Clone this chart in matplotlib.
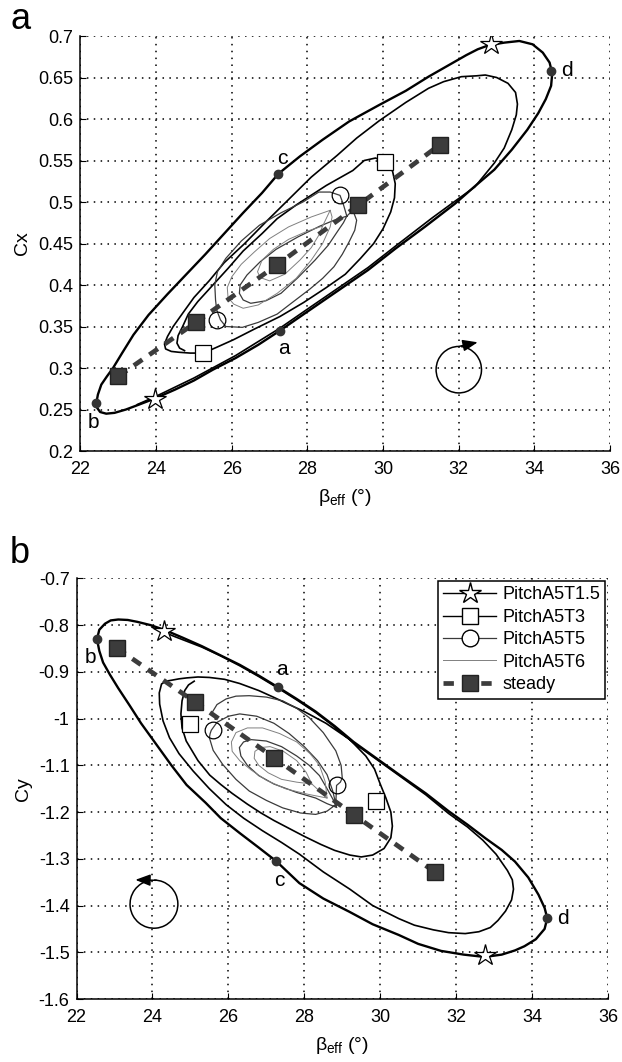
import matplotlib
matplotlib.use('Agg')
import matplotlib.pyplot as plt
from matplotlib.patches import Arc
from matplotlib.lines import Line2D
from matplotlib.ticker import FuncFormatter, MultipleLocator

plt.rcParams['font.family'] = ['Liberation Sans', 'DejaVu Sans']
plt.rcParams['mathtext.fontset'] = 'custom'
plt.rcParams['mathtext.rm'] = 'Liberation Sans'

# ---------------- panel a : Cx vs beta_eff ----------------
# PitchA5T1.5 (outer loop)
a_t15_x = [22.42, 22.46, 22.55, 22.7, 22.86, 23.1, 23.4, 23.8, 24.3, 24.8, 25.3, 25.8, 26.3,
           26.8, 27.23, 27.8, 28.4, 29.1, 29.9, 30.6, 31.2, 31.7, 32.2, 32.5, 32.8, 33.2,
           33.6, 33.95, 34.22, 34.4, 34.47, 34.44, 34.3, 34.1, 33.81, 33.4, 32.94, 32.4, 31.9,
           31.1, 30.33, 29.6, 28.8, 28.0, 27.27, 26.7, 26.1, 25.5, 25.0, 24.5, 23.95, 23.55,
           23.2, 22.9, 22.68, 22.52, 22.44, 22.42]
a_t15_y = [0.258, 0.268, 0.280, 0.290, 0.300, 0.318, 0.340, 0.364, 0.389, 0.413, 0.437,
           0.462, 0.487, 0.511, 0.534, 0.555, 0.575, 0.597, 0.617, 0.634, 0.651, 0.664,
           0.677, 0.684, 0.689, 0.692, 0.694, 0.690, 0.680, 0.668, 0.655, 0.640, 0.624,
           0.607, 0.587, 0.563, 0.539, 0.518, 0.498, 0.470, 0.444, 0.418, 0.393, 0.368,
           0.345, 0.328, 0.312, 0.298, 0.285, 0.274, 0.263, 0.256, 0.250, 0.246, 0.245,
           0.247, 0.252, 0.258]
a_t15_mx = [32.85, 23.96]
a_t15_my = [0.690, 0.263]

# PitchA5T3 (transient loop, then its own cycle)
a_t3_x = [23.5, 24.0, 25.0, 26.1, 27.27, 28.0, 28.8, 29.6, 30.33, 31.3, 31.9, 32.42, 32.94,
          33.2, 33.4, 33.52, 33.55, 33.5, 33.3, 33.0, 32.7, 32.46, 32.07, 31.6, 31.2, 30.6,
          29.9, 29.3, 28.78, 28.1, 27.5, 26.9, 26.34, 25.8, 25.4, 25.0, 24.7, 24.45, 24.3,
          24.22, 24.25, 24.4, 24.6, 24.9, 25.25, 25.6, 26.04, 26.6, 27.27, 27.9, 28.5, 29.0,
          29.4, 29.75, 30.0, 30.2, 30.3, 30.32, 30.25, 30.05, 29.8, 29.5, 29.2, 28.5, 27.72,
          27.2, 26.8, 26.3, 25.9, 25.5, 25.1, 24.85, 24.7, 24.58, 24.55, 24.62, 24.75]
a_t3_y = [0.256, 0.266, 0.288, 0.315, 0.348, 0.371, 0.396, 0.421, 0.447, 0.481, 0.501,
          0.518, 0.547, 0.565, 0.587, 0.605, 0.618, 0.632, 0.643, 0.650, 0.653, 0.652,
          0.651, 0.645, 0.637, 0.620, 0.598, 0.577, 0.556, 0.530, 0.503, 0.476, 0.450,
          0.427, 0.405, 0.385, 0.366, 0.350, 0.338, 0.329, 0.323, 0.320, 0.319, 0.318,
          0.318, 0.325, 0.334, 0.347, 0.362, 0.379, 0.397, 0.413, 0.432, 0.450, 0.468,
          0.488, 0.505, 0.522, 0.537, 0.548, 0.553, 0.550, 0.538, 0.520, 0.497, 0.480,
          0.462, 0.441, 0.420, 0.400, 0.380, 0.365, 0.350, 0.339, 0.330, 0.324, 0.321]
a_t3_mx = [25.25, 30.05]
a_t3_my = [0.318, 0.548]

# PitchA5T5
a_t5_x = [29.04, 28.95, 28.86, 28.6, 28.3, 27.88, 27.3, 26.73, 26.25, 25.84, 25.62, 25.55,
          25.57, 25.6, 25.7, 25.84, 26.28, 26.7, 27.2, 27.6, 28.06, 28.4, 28.7, 28.92, 29.1,
          29.25, 29.3, 29.2, 29.04, 28.7, 28.33, 27.75, 27.17, 26.75, 26.4, 26.22, 26.2,
          26.3, 26.5, 26.9, 27.3, 27.75, 28.2, 28.55, 28.8, 28.95, 29.04]
a_t5_y = [0.483, 0.497, 0.508, 0.512, 0.512, 0.500, 0.487, 0.472, 0.453, 0.432, 0.416,
          0.400, 0.382, 0.370, 0.358, 0.350, 0.349, 0.355, 0.365, 0.379, 0.395, 0.408,
          0.422, 0.437, 0.452, 0.466, 0.478, 0.490, 0.483, 0.478, 0.471, 0.458, 0.443,
          0.428, 0.412, 0.400, 0.390, 0.382, 0.378, 0.381, 0.390, 0.409, 0.430, 0.448,
          0.465, 0.475, 0.483]
a_t5_mx = [28.86, 25.6]
a_t5_my = [0.508, 0.358]

# PitchA5T6
a_t6_x = [28.6, 28.1, 27.5, 27.0, 26.6, 26.25, 26.0, 25.88, 25.9, 26.05, 26.3, 26.7, 27.2,
          27.7, 28.1, 28.4, 28.6, 28.65, 28.6, 28.4, 28.0, 27.5, 27.1, 26.8, 26.68, 26.75,
          27.0, 27.4, 27.8, 28.1, 28.3, 28.4]
a_t6_y = [0.490, 0.482, 0.470, 0.456, 0.440, 0.425, 0.410, 0.397, 0.385, 0.377, 0.372,
          0.376, 0.390, 0.408, 0.430, 0.450, 0.470, 0.482, 0.490, 0.471, 0.465, 0.455,
          0.443, 0.430, 0.416, 0.409, 0.405, 0.413, 0.430, 0.445, 0.460, 0.471]

# steady
a_st_x = [23.0, 25.05, 27.19, 29.34, 31.5]
a_st_y = [0.290, 0.355, 0.424, 0.496, 0.569]

# marked points a, b, c, d
a_pt_x = [27.27, 22.42, 27.23, 34.45]
a_pt_y = [0.345, 0.258, 0.534, 0.658]
a_pt_lab = ['a', 'b', 'c', 'd']

# ---------------- panel b : Cy vs beta_eff ----------------
b_t15_x = [22.54, 22.6, 22.75, 22.9, 23.1, 23.35, 23.6, 23.95, 24.31, 24.8, 25.3, 25.8,
           26.3, 26.8, 27.31, 27.8, 28.3, 28.8, 29.3, 29.9, 30.5, 31.2, 31.8, 32.3, 32.77,
           33.2, 33.55, 33.9, 34.17, 34.33, 34.4, 34.33, 34.1, 33.8, 33.55, 33.2, 32.75,
           32.2, 31.6, 31.0, 30.49, 29.8, 29.18, 28.5, 27.87, 27.26, 26.8, 26.3, 25.8, 25.4,
           24.9, 24.5, 24.1, 23.7, 23.4, 23.1, 22.88, 22.7, 22.6, 22.54]
b_t15_y = [-0.830, -0.810, -0.797, -0.790, -0.788, -0.789, -0.793, -0.800, -0.810, -0.827,
           -0.845, -0.865, -0.885, -0.908, -0.933, -0.958, -0.985, -1.016, -1.050, -1.085,
           -1.120, -1.160, -1.198, -1.227, -1.256, -1.281, -1.306, -1.340, -1.377, -1.405,
           -1.427, -1.450, -1.472, -1.487, -1.496, -1.505, -1.510, -1.505, -1.497, -1.482,
           -1.463, -1.440, -1.413, -1.385, -1.352, -1.305, -1.276, -1.245, -1.213, -1.180,
           -1.142, -1.100, -1.055, -1.010, -0.972, -0.935, -0.906, -0.880, -0.855, -0.830]
b_t15_mx = [24.31, 32.75]
b_t15_my = [-0.812, -1.506]

b_t3_x = [24.0, 24.6, 25.3, 25.8, 26.3, 26.8, 27.31, 27.8, 28.3, 28.8, 29.3, 29.9, 30.5,
          31.2, 31.8, 32.3, 32.7, 33.05, 33.35, 33.48, 33.51, 33.46, 33.3, 33.1, 32.9, 32.6,
          32.24, 31.8, 31.4, 30.9, 30.49, 29.8, 29.2, 28.5, 27.87, 27.4, 26.9, 26.4, 25.94,
          25.5, 25.07, 24.7, 24.45, 24.28, 24.19, 24.18, 24.24, 24.35, 24.5, 24.7, 24.9,
          25.2, 25.5, 25.9, 26.3, 26.8, 27.21, 27.6, 28.0, 28.57, 29.2, 29.62, 29.85, 30.0,
          30.15, 30.28, 30.32, 30.28, 30.1, 29.8, 29.5, 29.2, 28.8, 28.43, 28.0, 27.6, 27.2,
          26.86, 26.5, 26.1, 25.8, 25.51, 25.2, 24.89, 24.78, 24.75, 24.78, 24.85, 24.95,
          25.1]
b_t3_y = [-0.805, -0.825, -0.847, -0.866, -0.887, -0.910, -0.935, -0.960, -0.987, -1.018,
          -1.052, -1.087, -1.122, -1.163, -1.203, -1.232, -1.260, -1.290, -1.325, -1.345,
          -1.365, -1.388, -1.412, -1.432, -1.447, -1.456, -1.460, -1.458, -1.452, -1.442,
          -1.428, -1.400, -1.365, -1.328, -1.290, -1.265, -1.240, -1.213, -1.184, -1.150,
          -1.112, -1.075, -1.041, -1.005, -0.969, -0.945, -0.926, -0.920, -0.918, -0.915,
          -0.913, -0.911, -0.912, -0.916, -0.925, -0.940, -0.955, -0.970, -0.985, -1.010,
          -1.045, -1.080, -1.108, -1.140, -1.170, -1.200, -1.230, -1.255, -1.278, -1.292,
          -1.296, -1.292, -1.282, -1.269, -1.252, -1.235, -1.218, -1.202, -1.183, -1.160,
          -1.141, -1.121, -1.090, -1.048, -1.020, -0.990, -0.962, -0.940, -0.928, -0.920]
b_t3_mx = [24.99, 29.9]
b_t3_my = [-1.012, -1.177]

b_t5_x = [25.55, 25.7, 25.94, 26.2, 26.55, 27.0, 27.43, 27.8, 28.13, 28.5, 28.83, 28.97,
          29.0, 28.95, 28.85, 28.83, 28.6, 28.3, 27.9, 27.43, 27.0, 26.55, 26.2, 25.85, 25.6,
          25.5, 25.52, 25.55, 25.7, 26.0, 26.3, 26.75, 27.2, 27.6, 28.0, 28.35, 28.6, 28.75,
          28.85, 28.6, 28.3, 27.8, 27.2, 26.8, 26.5, 26.33, 26.29, 26.4, 26.6, 27.0, 27.4,
          27.8, 28.13, 28.4, 28.6, 28.75, 28.85]
b_t5_y = [-0.990, -0.970, -0.958, -0.952, -0.951, -0.954, -0.962, -0.978, -0.998, -1.030,
          -1.069, -1.100, -1.127, -1.136, -1.143, -1.184, -1.198, -1.205, -1.202, -1.191,
          -1.175, -1.155, -1.130, -1.098, -1.068, -1.041, -1.032, -1.025, -1.008, -0.995,
          -0.990, -0.995, -1.010, -1.032, -1.060, -1.090, -1.120, -1.155, -1.190, -1.182,
          -1.170, -1.158, -1.140, -1.122, -1.100, -1.080, -1.062, -1.050, -1.045, -1.048,
          -1.060, -1.080, -1.100, -1.122, -1.150, -1.172, -1.190]
b_t5_mx = [25.6, 28.85]
b_t5_my = [-1.025, -1.143]

b_t6_x = [28.6, 28.1, 27.5, 27.0, 26.6, 26.3, 26.1, 26.08, 26.2, 26.5, 26.9, 27.35, 27.8,
          28.15, 28.4, 28.55, 28.6, 28.2, 27.8, 27.4, 27.05, 26.8, 26.68, 26.7, 26.85, 27.1,
          27.45, 27.8, 28.05, 28.2]
b_t6_y = [-1.170, -1.162, -1.150, -1.132, -1.110, -1.090, -1.070, -1.050, -1.030, -1.020,
          -1.020, -1.032, -1.050, -1.075, -1.100, -1.135, -1.170, -1.140, -1.136, -1.130,
          -1.116, -1.100, -1.085, -1.070, -1.062, -1.060, -1.070, -1.090, -1.115, -1.140]

b_st_x = [23.06, 25.13, 27.21, 29.31, 31.45]
b_st_y = [-0.849, -0.965, -1.084, -1.206, -1.329]

b_pt_x = [27.31, 22.54, 27.26, 34.4]
b_pt_y = [-0.933, -0.830, -1.305, -1.427]
b_pt_lab = ['a', 'b', 'c', 'd']

FS = 13
steady_c = '#3c3c3c'


def draw_panel(ax, t15, t3, t5, t6, st, pts):
    ax.plot(t15[0], t15[1], color='k', lw=1.7, zorder=3)
    ax.plot(t15[2], t15[3], ls='none', marker='*', ms=16, mfc='white', mec='k', mew=0.9, zorder=5)
    ax.plot(t3[0], t3[1], color='k', lw=1.2, zorder=3)
    ax.plot(t3[2], t3[3], ls='none', marker='s', ms=11, mfc='white', mec='k', mew=0.9, zorder=5)
    ax.plot(t5[0], t5[1], color='#3a3a3a', lw=0.9, zorder=3)
    ax.plot(t5[2], t5[3], ls='none', marker='o', ms=12, mfc='none', mec='k', mew=0.9, zorder=5)
    ax.plot(t6[0], t6[1], color='#808080', lw=0.7, zorder=3)
    ax.plot(st[0], st[1], color=steady_c, lw=3.4, ls=(0, (2.2, 1.8)), zorder=4)
    ax.plot(st[0], st[1], ls='none', marker='s', ms=12, mfc=steady_c, mec='#222222', zorder=6)
    ax.plot(pts[0], pts[1], ls='none', marker='o', ms=6, color='#333333', zorder=6)


def style_axes(ax, ylo, yhi, ystep, ylabel):
    ax.set_xlim(22, 36)
    ax.set_ylim(ylo, yhi)
    ax.xaxis.set_major_locator(MultipleLocator(2))
    ax.yaxis.set_major_locator(MultipleLocator(ystep))
    ax.yaxis.set_major_formatter(FuncFormatter(lambda v, p: '%g' % round(v, 3)))
    ax.grid(True, color='k', ls=(0, (1, 3.5)), lw=1.1)
    ax.set_axisbelow(True)
    for s in ['top', 'right']:
        ax.spines[s].set_visible(False)
    for s in ['left', 'bottom']:
        ax.spines[s].set_linewidth(1.1)
    ax.tick_params(direction='in', length=4, labelsize=FS, top=False, right=False)
    ax.tick_params(axis='x', pad=7)
    ax.tick_params(axis='y', pad=5)
    ax.set_xlabel(r'$\mathregular{β_{eff}}$ (°)', fontsize=FS + 1, labelpad=7)
    ax.set_ylabel(ylabel, fontsize=FS + 1, labelpad=5)


fig = plt.figure(figsize=(6.22, 10.62), dpi=100)

# panel a
ax1 = fig.add_axes([0.1294, 0.5753, 0.8515, 0.3908])
draw_panel(ax1, (a_t15_x, a_t15_y, a_t15_mx, a_t15_my), (a_t3_x, a_t3_y, a_t3_mx, a_t3_my),
           (a_t5_x, a_t5_y, a_t5_mx, a_t5_my), (a_t6_x, a_t6_y), (a_st_x, a_st_y),
           (a_pt_x, a_pt_y))
style_axes(ax1, 0.2, 0.7, 0.05, 'Cx')
a_off = [(0.1, -0.022), (-0.08, -0.024), (0.1, 0.019), (0.42, 0.001)]
for x, y, t, (dx, dy) in zip(a_pt_x, a_pt_y, a_pt_lab, a_off):
    ax1.text(x + dx, y + dy, t, fontsize=15, ha='center', va='center')
# rotation sense arrow (clockwise)
ax1.add_patch(Arc((32.0, 0.298), 1.2, 0.056, theta1=95, theta2=25, lw=1.1, color='k'))
ax1.annotate('', xy=(32.5, 0.331), xytext=(32.0, 0.326),
             arrowprops=dict(arrowstyle='-|>,head_length=0.9,head_width=0.35', color='k',
                             lw=1.1, shrinkA=0, shrinkB=0))

# panel b
ax2 = fig.add_axes([0.123, 0.0593, 0.8545, 0.3961])
draw_panel(ax2, (b_t15_x, b_t15_y, b_t15_mx, b_t15_my), (b_t3_x, b_t3_y, b_t3_mx, b_t3_my),
           (b_t5_x, b_t5_y, b_t5_mx, b_t5_my), (b_t6_x, b_t6_y), (b_st_x, b_st_y),
           (b_pt_x, b_pt_y))
style_axes(ax2, -1.6, -0.7, 0.1, 'Cy')
b_off = [(0.1, 0.038), (-0.18, -0.04), (0.08, -0.042), (0.42, 0.0)]
for x, y, t, (dx, dy) in zip(b_pt_x, b_pt_y, b_pt_lab, b_off):
    ax2.text(x + dx, y + dy, t, fontsize=15, ha='center', va='center')
# rotation sense arrow (counter-clockwise)
ax2.add_patch(Arc((24.04, -1.397), 1.26, 0.103, theta1=155, theta2=85, lw=1.1, color='k'))
ax2.annotate('', xy=(23.55, -1.345), xytext=(24.1, -1.346),
             arrowprops=dict(arrowstyle='-|>,head_length=0.9,head_width=0.35', color='k',
                             lw=1.1, shrinkA=0, shrinkB=0))

handles = [
    Line2D([], [], color='k', lw=1.0, marker='*', ms=16, mfc='white', mec='k'),
    Line2D([], [], color='k', lw=1.0, marker='s', ms=11, mfc='white', mec='k'),
    Line2D([], [], color='#3a3a3a', lw=0.9, marker='o', ms=12, mfc='white', mec='k'),
    Line2D([], [], color='#808080', lw=0.7),
    Line2D([], [], color=steady_c, lw=3.4, ls=(0, (2.2, 1.8)), marker='s', ms=12,
           mfc=steady_c, mec='#222222'),
]
labels = ['PitchA5T1.5', 'PitchA5T3', 'PitchA5T5', 'PitchA5T6', 'steady']
leg = ax2.legend(handles, labels, loc='upper right', fontsize=FS, frameon=True, fancybox=False,
                 edgecolor='k', framealpha=1, borderaxespad=0.15, handlelength=2.9,
                 labelspacing=0.3, handletextpad=0.35, borderpad=0.3)
leg.get_frame().set_linewidth(1.1)
leg.set_zorder(10)

fig.text(10 / 622, 1 - 2 / 1062, 'a', fontsize=26, va='top', ha='left')
fig.text(10 / 622, 1 - 536 / 1062, 'b', fontsize=26, va='top', ha='left')

fig.savefig('out.png', dpi=100)
